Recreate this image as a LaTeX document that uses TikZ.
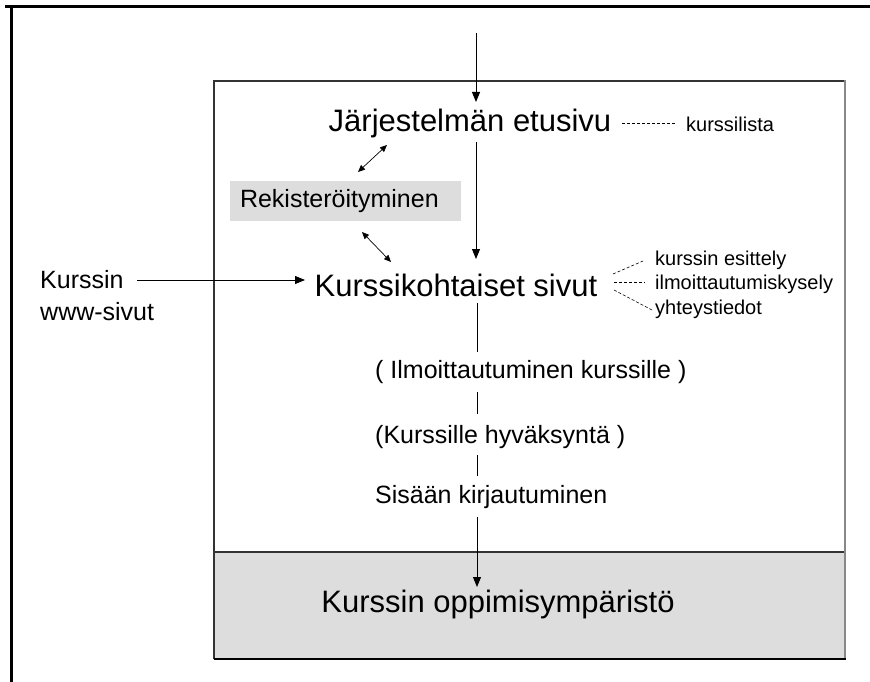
\documentclass[tikz,border=0pt]{standalone}
\usepackage{fontspec}
\setmainfont{Liberation Sans}
\usetikzlibrary{arrows.meta}
\definecolor{panelgrey}{HTML}{DDDDDD}
\definecolor{framedark}{HTML}{333333}
\definecolor{edgegrey}{HTML}{888888}
\begin{document}
\begin{tikzpicture}[x=1pt,y=-1pt,
  big/.style={inner sep=0pt,font=\fontsize{31}{31}\selectfont},
  mid/.style={inner sep=0pt,font=\fontsize{25}{25}\selectfont},
  small/.style={inner sep=0pt,font=\fontsize{20}{20}\selectfont},
  flow/.style={line width=0.9pt,-{Triangle[length=10pt,width=8pt]}},
  twoway/.style={line width=0.7pt,{Triangle[length=7pt,width=6pt]}-{Triangle[length=7pt,width=6pt]}},
  plainline/.style={line width=0.9pt},
  dots/.style={line width=0.6pt,dash pattern=on 3pt off 2pt}]
\useasboundingbox (0,0) rectangle (870,682);
\fill[white] (0,0) rectangle (870,682);

% outer frame (top and left)
\draw[line width=3pt] (5,7) -- (870,7);
\draw[line width=3pt] (11,7) -- (11,682);

% main panel with its grey lower band
\fill[panelgrey] (214,552) rectangle (845,659);
\draw[framedark,line width=1.4pt] (214,659) -- (214,81) -- (845,81);
\draw[framedark,line width=1.2pt] (214,552) -- (845,552);
\draw[edgegrey,line width=2.4pt] (845,80) -- (845,660);
\draw[black,line width=2pt] (214,659) -- (846,659);

% nodes
\node[big] (front) at (470,123) {Järjestelmän etusivu};
\node[small,anchor=west] (list) at (686,124) {kurssilista};
\node[mid,fill=panelgrey,minimum width=231pt,minimum height=40pt,text width=211pt,align=left] (reg) at (345.5,201) {Rekisteröityminen};
\node[big] (course) at (456,285) {Kurssikohtaiset sivut};
\node[mid,anchor=west] (www1) at (40,280) {Kurssin};
\node[mid,anchor=west] (www2) at (40,312) {www-sivut};
\node[small,anchor=west] (intro) at (655,260) {kurssin esittely};
\node[small,anchor=west] (form) at (655,284) {ilmoittautumiskysely};
\node[small,anchor=west] (contact) at (655,309) {yhteystiedot};
\node[mid,anchor=west] (enrol) at (375,372) {( Ilmoittautuminen kurssille )};
\node[mid,anchor=west] (accept) at (375,437) {(Kurssille hyväksyntä )};
\node[mid,anchor=west] (login) at (375,497) {Sisään kirjautuminen};
\node[big] (env) at (498,604) {Kurssin oppimisympäristö};

% connector end points
\coordinate (entry) at (476,33);
\coordinate (frontin) at (476,102);
\coordinate (frontout) at (476,142);
\coordinate (coursein) at (476,259);
\coordinate (courseout) at (477,303);
\coordinate (enrolin) at (477,352);
\coordinate (enrolout) at (477,392);
\coordinate (acceptin) at (477,414);
\coordinate (acceptout) at (477,455);
\coordinate (loginin) at (477,476);
\coordinate (loginout) at (477,517);
\coordinate (envin) at (477,587);
\coordinate (wwwout) at (137,280);
\coordinate (wwwin) at (305,280);
\coordinate (regtop) at (358,172);
\coordinate (frontleft) at (387,145);
\coordinate (regbottom) at (362,232);
\coordinate (courseleft) at (391,262);
\coordinate (listout) at (622,123);
\coordinate (listin) at (675,123);
\coordinate (fan1) at (613,274);
\coordinate (fan2) at (614,282);
\coordinate (fan3) at (614,290);
\coordinate (introin) at (643,261);
\coordinate (formin) at (645,282);
\coordinate (contactin) at (652,310);

% connectors
\draw[flow] (entry) -- (frontin);
\draw[flow] (frontout) -- (coursein);
\draw[twoway] (regtop) -- (frontleft);
\draw[twoway] (regbottom) -- (courseleft);
\draw[flow] (wwwout) -- (wwwin);
\draw[dots] (listout) -- (listin);
\draw[dots] (fan1) -- (introin);
\draw[dots] (fan2) -- (formin);
\draw[dots] (fan3) -- (contactin);
\draw[plainline] (courseout) -- (enrolin);
\draw[plainline] (enrolout) -- (acceptin);
\draw[plainline] (acceptout) -- (loginin);
\draw[flow] (loginout) -- (envin);
\end{tikzpicture}
\end{document}
